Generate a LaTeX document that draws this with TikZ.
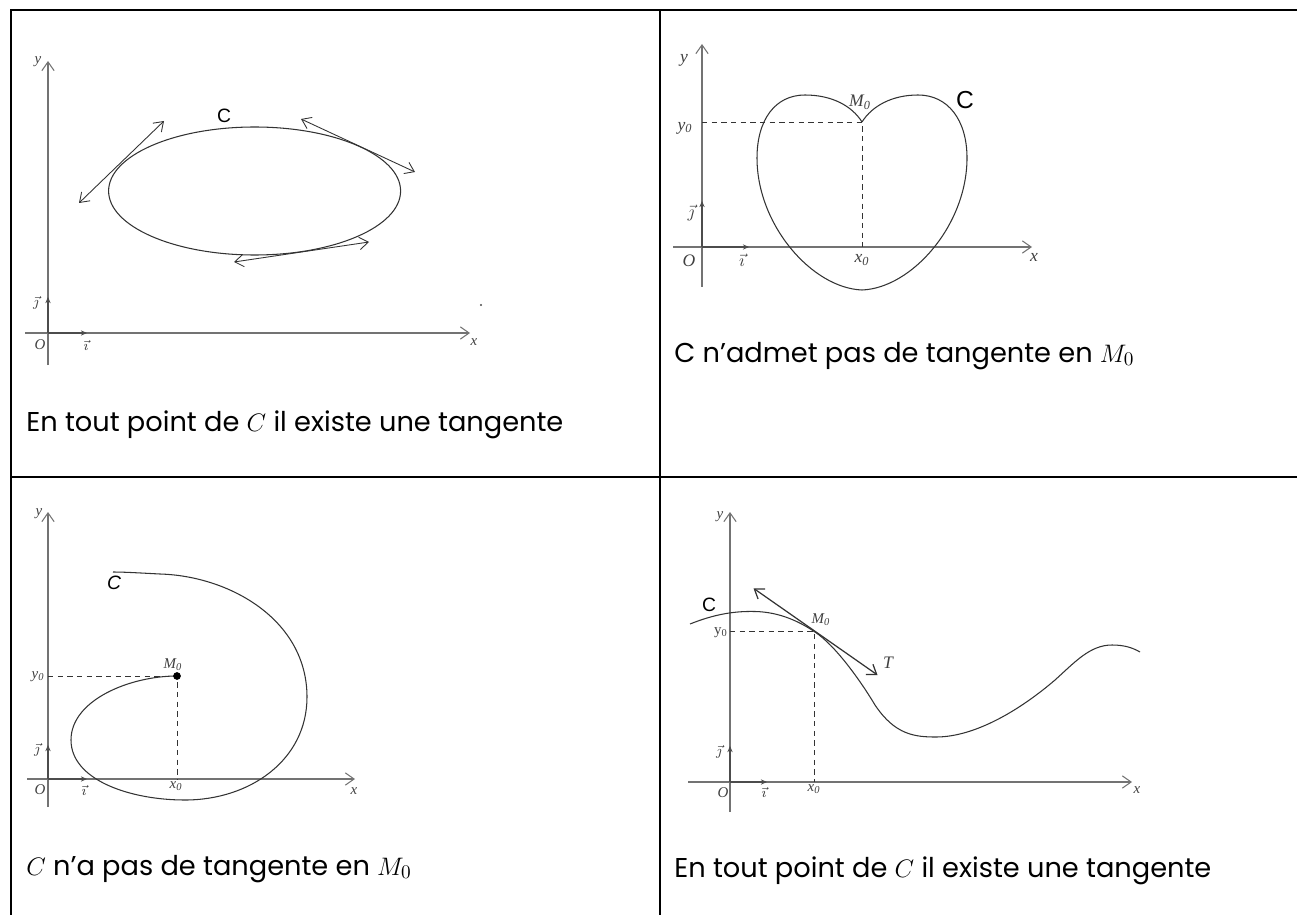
\documentclass[tikz,border=0pt]{standalone}
\usepackage{fontspec}
\setmainfont{Poppins}
\newfontfamily\labfont{Liberation Serif}
\newfontfamily\curvfont{Liberation Sans}
\usetikzlibrary{arrows.meta,calc}
\tikzset{
  tabline/.style={line width=1.3pt, black},
  axisline/.style={->, line width=0.6pt, black!55},
  curve/.style={line width=0.6pt, black!80},
  tanarrow/.style={<->, line width=0.5pt, black!80},
  dashline/.style={dashed, dash pattern=on 3pt off 2.5pt, line width=0.5pt, black!80},
  unitvec/.style={-{Stealth[length=3.5pt,width=3pt]}, line width=0.6pt, black!70},
  lab/.style={font=\labfont\itshape\fontsize{8.5}{10}\selectfont, inner sep=0pt, text=black!75},
  lcurve/.style={font=\curvfont\fontsize{11}{13}\selectfont, inner sep=0pt},
  caption/.style={font=\fontsize{15.5}{18}\selectfont, anchor=base west, inner sep=0pt},
}
\begin{document}
\begin{tikzpicture}[x=0.02cm,y=-0.02cm,>={Straight Barb[length=5pt,width=7pt]}]
  \useasboundingbox (0,0) rectangle (1297,915);
  % table rules
  \draw[tabline] (10,10) -- (1297,10);
  \draw[tabline] (11,10) -- (11,915);
  \draw[tabline] (660,10) -- (660,915);
  \draw[tabline] (11,477) -- (1297,477);

  % ---- cell 1 : ellipse
  \coordinate (Oa) at (48,333);
  \draw[axisline] (25,333) -- (470,333);
  \draw[axisline] (48,365) -- (48,61);
  \draw[unitvec] (Oa) -- (87,333);
  \draw[unitvec] (Oa) -- (48,297);
  \draw[curve] (254.6,191) ellipse [x radius=146, y radius=64];
  \draw[tanarrow] (79,203) -- (164,121);
  \draw[tanarrow] (301,119) -- (415,172);
  \draw[tanarrow] (234,262) -- (369,242);
  \fill[black!70] (481,305) circle [radius=0.6pt];
  \node[lab] (ya) at (38,62) {y};
  \node[lab] (xa) at (474,342) {x};
  \node[lab] (oa) at (40,345) {O};
  \node[lab] (ia) at (86,345) {$\vec{\imath}$};
  \node[lab] (ja) at (36,303) {$\vec{\jmath}$};
  \node[lcurve] (ca) at (224,116) {C};
  \node[caption] (capa) at (26,431) {En tout point de $C$ il existe une tangente};

  % ---- cell 2 : heart
  \coordinate (Ob) at (702,247);
  \coordinate (Mb) at (862,122);
  \draw[axisline] (673,247) -- (1032,247);
  \draw[axisline] (702,287) -- (702,44);
  \draw[unitvec] (Ob) -- (749,247);
  \draw[unitvec] (Ob) -- (702,201);
  \draw[dashline] (702,122) -- (Mb) -- (862,247);
  \draw[curve] (Mb) .. controls (852,106) and (832,95) .. (805,95)
    .. controls (775,95) and (757,120) .. (757,158)
    .. controls (757,225) and (812,288) .. (862,290)
    .. controls (912,288) and (967,225) .. (967,158)
    .. controls (967,120) and (948,95) .. (918,95)
    .. controls (892,95) and (872,106) .. (Mb);
  \node[lab,font=\labfont\itshape\fontsize{10}{12}\selectfont] (yb) at (684,60) {y};
  \node[lab,font=\labfont\itshape\fontsize{10}{12}\selectfont] (xb) at (1034,257) {x};
  \node[lab,font=\labfont\itshape\fontsize{10}{12}\selectfont] (ob) at (689,261) {O};
  \node[lab,font=\labfont\itshape\fontsize{10}{12}\selectfont] (ib) at (742,260) {$\vec{\imath}$};
  \node[lab,font=\labfont\itshape\fontsize{10}{12}\selectfont] (jb) at (691,213) {$\vec{\jmath}$};
  \node[lab,font=\labfont\itshape\fontsize{10}{12}\selectfont] (y0b) at (685,128) {y\textsubscript{0}};
  \node[lab,font=\labfont\itshape\fontsize{10}{12}\selectfont] (x0b) at (862,260) {x\textsubscript{0}};
  \node[lab,font=\labfont\itshape\fontsize{10}{12}\selectfont] (m0b) at (860,102) {M\textsubscript{0}};
  \node[lcurve,font=\curvfont\fontsize{14}{16}\selectfont] (cb) at (965,100) {C};
  \node[caption] (capb) at (674,362) {C n’admet pas de tangente en $M_0$};

  % ---- cell 3 : spiral
  \coordinate (Oc) at (48,779);
  \coordinate (Mc) at (177,676);
  \draw[axisline] (27,779) -- (355,779);
  \draw[axisline] (48,807) -- (48,512);
  \draw[unitvec] (Oc) -- (87,779);
  \draw[unitvec] (Oc) -- (48,745);
  \draw[dashline] (48,676) -- (Mc) -- (177,779);
  \draw[curve] (Mc) .. controls (130,676) and (71,700) .. (71,740)
    .. controls (71,780) and (130,800) .. (185,800)
    .. controls (250,800) and (307,760) .. (307,697)
    .. controls (307,620) and (230,576) .. (160,574)
    .. controls (140,573) and (125,572) .. (113,572);
  \fill[black] (Mc) circle [radius=2.2pt];
  \node[lab] (yc) at (39,514) {y};
  \node[lab] (xc) at (354,791) {x};
  \node[lab] (oc) at (40,790) {O};
  \node[lab] (ic) at (84,790) {$\vec{\imath}$};
  \node[lab] (jc) at (37,750) {$\vec{\jmath}$};
  \node[lab] (y0c) at (38,677) {y\textsubscript{0}};
  \node[lab] (x0c) at (176,786) {x\textsubscript{0}};
  \node[lab] (m0c) at (173,665) {M\textsubscript{0}};
  \node[lcurve,font=\curvfont\itshape\fontsize{11}{13}\selectfont] (cc) at (114,583) {C};
  \node[caption] (capc) at (26,875) {$C$ n’a pas de tangente en $M_0$};

  % ---- cell 4 : smooth curve with tangent T
  \coordinate (Od) at (730,782);
  \coordinate (Md) at (814.5,631.7);
  \coordinate (Ta) at (753.5,588.3);
  \coordinate (Tb) at (877.5,675);
  \draw[axisline] (688,782) -- (1132,782);
  \draw[axisline] (730,812) -- (730,512);
  \draw[unitvec] (Od) -- (767,782);
  \draw[unitvec] (Od) -- (730,746);
  \draw[dashline] (730,631.7) -- (Md) -- (814.5,782);
  \draw[curve] (690,624) .. controls (715,614) and (735,611) .. (755,611.5)
    .. controls (780,612) and (800,622) .. (Md)
    .. controls (835,645) and (860,680) .. (875,705)
    .. controls (895,735) and (915,737) .. (936,737)
    .. controls (975,737) and (1020,710) .. (1055,680)
    .. controls (1075,662) and (1090,645) .. (1112,645)
    .. controls (1125,645) and (1133,648) .. (1140,652);
  \draw[tanarrow,line width=0.7pt] (Ta) -- (Tb);
  \node[lab] (yd) at (720,517) {y};
  \node[lab] (xd) at (1137,790) {x};
  \node[lab] (od) at (723,793) {O};
  \node[lab] (id) at (764,792) {$\vec{\imath}$};
  \node[lab] (jd) at (719,752) {$\vec{\jmath}$};
  \node[lab,font=\labfont\fontsize{8.5}{10}\selectfont] (y0d) at (721,633) {y\textsubscript{0}};
  \node[lab] (x0d) at (814,789) {x\textsubscript{0}};
  \node[lab] (m0d) at (821,620) {M\textsubscript{0}};
  \node[lab,font=\labfont\itshape\fontsize{10}{12}\selectfont] (td) at (888,663) {T};
  \node[lcurve] (cd) at (709,605) {C};
  \node[caption] (capd) at (674,877) {En tout point de $C$ il existe une tangente};
\end{tikzpicture}
\end{document}
